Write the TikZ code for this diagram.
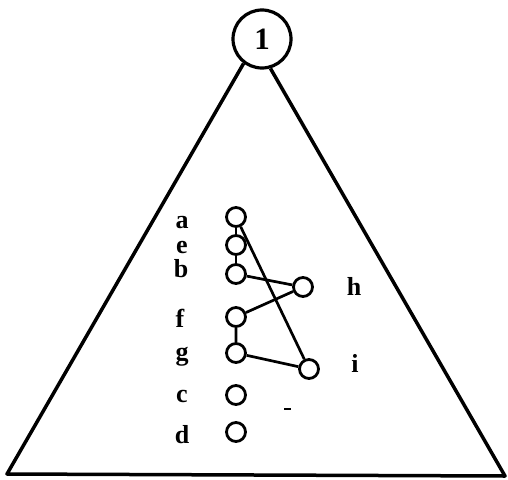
\documentclass[tikz,border=0pt]{standalone}
\usepackage{fontspec}
\setmainfont{Liberation Serif}

\begin{document}
\begin{tikzpicture}[x=1pt, y=-1pt,
    vtx/.style={circle, draw, line width=2.8pt, minimum size=19pt, inner sep=0pt},
    lbl/.style={font=\fontsize{26}{28}\selectfont\bfseries, anchor=base, inner sep=0pt},
    edge/.style={line width=2.7pt},
    tri/.style={line width=3.5pt, line join=round}]
  \useasboundingbox (0,0) rectangle (508,479);
  % root and its subtree
  \node[circle, draw, line width=3.2pt, minimum size=58pt, inner sep=0pt,
        font=\fontsize{31}{34}\selectfont\bfseries] (one) at (262,39) {1};
  \coordinate (L) at (7,474);
  \coordinate (R) at (505,476);
  \draw[tri] (one.233) -- (L) -- (R) -- (one.286);
  % vertices inside the subtree
  \foreach \n/\x/\y in {a/236/217, e/236/245, b/236/274, h/303/287, f/236/317,
                        g/236/353, i/309/369, c/236/395, d/236/432}
    \node[vtx] (\n) at (\x,\y) {};
  % names of the vertices
  \foreach \n/\x/\y in {a/182/228, e/182/253, b/181/277, f/180/327, g/182/360,
                        c/182/402, d/182/443, h/354/295, i/355/372}
    \node[lbl] (l\n) at (\x,\y) {\n};
  % edges
  \draw[edge] (a) -- (e) -- (b);
  \draw[edge] (a) -- (i);
  \draw[edge] (b) -- (h) -- (f) -- (g) -- (i);
  % small stray mark
  \draw[line width=1.5pt] (284,409) -- (291,409);
\end{tikzpicture}
\end{document}
